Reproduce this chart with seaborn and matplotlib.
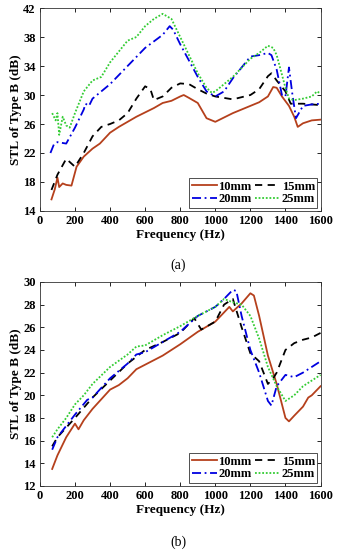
import numpy as np
import pandas as pd
import matplotlib
matplotlib.use("Agg")
import matplotlib.pyplot as plt
import seaborn as sns

# ---- panel (a) data ----
a_f10 = [66, 85, 100, 110, 130, 150, 180, 209, 250, 300, 342, 400, 450, 500, 550, 600, 650, 700, 750, 800, 820,
         850, 900, 950, 1000, 1050, 1100, 1150, 1200, 1250, 1300, 1330, 1350, 1380, 1420, 1450, 1470, 1500, 1550, 1600]
a_y10 = [15.6, 17.0, 18.6, 17.3, 17.8, 17.6, 17.5, 20.1, 21.5, 22.6, 23.3, 24.8, 25.6, 26.3, 27.0, 27.6, 28.2, 28.9,
         29.2, 29.8, 30.0, 29.6, 28.9, 26.8, 26.3, 26.9, 27.5, 28.0, 28.5, 29.0, 29.8, 31.1, 31.0, 29.8, 28.5, 27.0,
         25.6, 26.1, 26.5, 26.6]

a_f15 = [66, 100, 150, 200, 250, 300, 350, 400, 450, 500, 550, 600, 630, 650, 700, 750, 800, 850, 900, 950, 1000,
         1100, 1200, 1250, 1300, 1320, 1350, 1400, 1430, 1500, 1550, 1600]
a_y15 = [16.9, 19.0, 21.2, 20.1, 22.0, 24.3, 25.6, 26.0, 26.5, 27.5, 29.5, 31.2, 30.8, 29.3, 29.8, 31.0, 31.6,
         31.5, 30.8, 30.2, 29.8, 29.4, 30.0, 30.8, 32.6, 33.0, 32.0, 30.5, 28.8, 28.8, 28.7, 28.6]

a_f20 = [60, 80, 100, 150, 200, 250, 260, 280, 300, 400, 500, 600, 700, 740, 760, 800, 900, 950, 1000, 1050,
         1100, 1150, 1200, 1250, 1300, 1320, 1350, 1380, 1400, 1420, 1440, 1460, 1500, 1550, 1600]
a_y20 = [22.0, 23.2, 23.5, 23.3, 25.5, 28.0, 28.8, 28.5, 29.5, 31.5, 34.0, 36.5, 38.3, 39.5, 39.0, 37.0, 32.5,
         30.5, 29.8, 30.5, 32.3, 33.8, 35.3, 35.5, 35.8, 35.5, 33.5, 30.0, 29.8, 33.8, 30.0, 26.8, 28.5, 28.7, 28.8]

a_f25 = [70, 90, 100, 110, 130, 150, 170, 200, 250, 300, 350, 400, 500, 550, 600, 650, 700, 750, 800, 900, 950,
         980, 1000, 1100, 1200, 1250, 1300, 1330, 1350, 1400, 1420, 1450, 1500, 1550, 1580, 1600]
a_y25 = [27.5, 26.5, 27.5, 24.5, 27.0, 25.8, 25.5, 27.5, 30.5, 32.0, 32.5, 34.5, 37.5, 38.0, 39.5, 40.5, 41.2,
         40.5, 38.0, 33.0, 31.0, 30.3, 30.5, 32.5, 35.0, 35.8, 36.8, 36.5, 35.5, 31.0, 29.5, 29.3, 29.5, 29.8,
         30.5, 30.2]

# ---- panel (b) data ----
b_f10 = [70, 100, 150, 200, 220, 250, 300, 400, 450, 500, 550, 600, 700, 800, 900, 1000, 1080, 1100, 1150, 1200,
         1220, 1250, 1300, 1350, 1400, 1420, 1450, 1500, 1530, 1550, 1600]
b_y10 = [13.5, 14.7, 16.3, 17.5, 17.0, 17.8, 18.8, 20.5, 20.9, 21.5, 22.3, 22.7, 23.5, 24.5, 25.6, 26.5, 27.8,
         27.4, 28.1, 29.0, 28.8, 27.0, 23.5, 21.0, 18.0, 17.7, 18.2, 19.0, 19.8, 20.0, 20.8]

b_f15 = [70, 100, 200, 300, 400, 500, 600, 700, 800, 880, 920, 1000, 1050, 1100, 1150, 1200, 1250, 1300, 1330,
         1350, 1400, 1450, 1500, 1550, 1600]
b_y15 = [15.5, 16.3, 18.0, 19.8, 21.3, 22.8, 24.0, 24.7, 25.5, 26.8, 25.8, 26.5, 28.0, 28.5, 26.0, 23.7, 23.0,
         21.0, 21.5, 22.0, 24.0, 24.6, 24.9, 25.1, 25.5]

b_f20 = [70, 100, 200, 270, 300, 400, 500, 550, 600, 700, 800, 900, 1000, 1050, 1100, 1120, 1150, 1200, 1250,
         1300, 1320, 1350, 1400, 1450, 1500, 1550, 1600]
b_y20 = [15.2, 16.3, 18.3, 19.6, 19.8, 21.5, 22.8, 23.6, 23.8, 24.7, 25.6, 27.0, 27.8, 28.5, 29.3, 29.2, 27.0,
         24.0, 22.0, 19.5, 19.1, 20.8, 21.8, 21.6, 22.0, 22.5, 23.0]

b_f25 = [70, 100, 150, 200, 250, 300, 400, 500, 550, 600, 700, 800, 900, 1000, 1050, 1100, 1150, 1200, 1250,
         1300, 1350, 1400, 1450, 1500, 1550, 1600]
b_y25 = [16.3, 17.0, 18.0, 19.2, 20.0, 21.0, 22.5, 23.6, 24.3, 24.4, 25.3, 26.1, 27.0, 27.8, 28.5, 28.2, 28.0,
         27.0, 25.0, 22.5, 20.8, 19.5, 20.0, 20.8, 21.3, 21.8]

labels = ["10mm", "15mm", "20mm", "25mm"]
colors = ["#b5401c", "#000000", "#0000e0", "#33cc33"]
styles = ["-", (0, (4, 3)), (0, (5, 2, 1, 2)), (0, (1, 1))]

plt.rcParams["font.family"] = ["Liberation Serif", "DejaVu Serif"]
plt.rcParams["font.weight"] = "bold"

fig = plt.figure(figsize=(3.41, 5.5), dpi=100)
ax_a = fig.add_axes([0.117, 0.6164, 0.823, 0.369])
ax_b = fig.add_axes([0.117, 0.1164, 0.823, 0.371])


def draw_panel(ax, series, ylim, yticks):
    for (f, y), lab, col, ls in zip(series, labels, colors, styles):
        df = pd.DataFrame({"Frequency": f, "STL": y})
        sns.lineplot(data=df, x="Frequency", y="STL", ax=ax, color=col, linewidth=1.3,
                     linestyle=ls, label=lab)
    ax.set_xlim(0, 1600)
    ax.set_ylim(*ylim)
    ax.set_xticks(range(0, 1601, 200))
    ax.set_yticks(yticks)
    ax.tick_params(direction="in", top=True, right=True, labelsize=9, length=3, width=0.6, pad=3)
    for t in ax.get_xticklabels() + ax.get_yticklabels():
        t.set_fontweight("bold")
    for s in ax.spines.values():
        s.set_linewidth(0.6)
        s.set_color("#333333")
    ax.set_xlabel("Frequency (Hz)", fontsize=9.5, fontweight="bold", labelpad=1.5)
    ax.set_ylabel("STL of Type B (dB)", fontsize=9.5, fontweight="bold", labelpad=1)
    # row-wise legend order: 10mm 15mm / 20mm 25mm
    handles, labs = ax.get_legend_handles_labels()
    order = [0, 2, 1, 3]
    leg = ax.legend([handles[i] for i in order], [labs[i] for i in order], ncol=2, loc="lower right",
                    frameon=True, fancybox=False, borderaxespad=0.25, handlelength=2.0,
                    handletextpad=0.15, columnspacing=0.25, labelspacing=0.05, borderpad=0.2,
                    prop={"weight": "bold", "size": 9})
    leg.get_frame().set_edgecolor("#333333")
    leg.get_frame().set_linewidth(0.6)
    leg.get_frame().set_alpha(1)


draw_panel(ax_a, [(a_f10, a_y10), (a_f15, a_y15), (a_f20, a_y20), (a_f25, a_y25)],
           (14, 42), range(14, 43, 4))
draw_panel(ax_b, [(b_f10, b_y10), (b_f15, b_y15), (b_f20, b_y20), (b_f25, b_y25)],
           (12, 30), range(12, 31, 2))

fig.text(0.522, 0.518, "(a)", ha="center", va="center", fontsize=10, fontweight="normal")
fig.text(0.522, 0.0145, "(b)", ha="center", va="center", fontsize=10, fontweight="normal")

fig.savefig("out.png", dpi=100)
